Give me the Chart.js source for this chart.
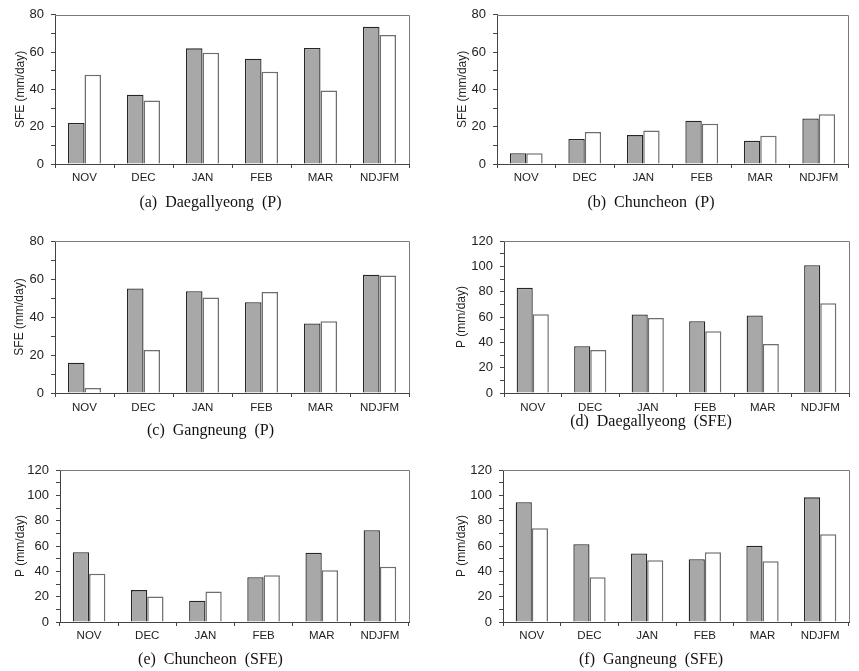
<!DOCTYPE html>
<html>
<head>
<meta charset="utf-8">
<script src="https://cdn.jsdelivr.net/npm/chart.js@4.4.1/dist/chart.umd.min.js"></script>
<style>
  html, body { margin: 0; padding: 0; background: #ffffff; }
  body { width: 859px; height: 671px; position: relative; overflow: hidden; }
  canvas { position: absolute; }
</style>
</head>
<body>
<canvas id="pa"></canvas>
<canvas id="pb"></canvas>
<canvas id="pc"></canvas>
<canvas id="pd"></canvas>
<canvas id="pe"></canvas>
<canvas id="pf"></canvas>
<script>
// ---- data ----
const categories = ['NOV', 'DEC', 'JAN', 'FEB', 'MAR', 'NDJFM'];

const grayA  = [22.0, 37.1, 62.0, 56.4, 62.2, 73.6];
const whiteA = [47.8, 34.0, 59.7, 49.4, 39.4, 69.2];

const grayB  = [5.8, 13.4, 15.5, 23.2, 12.4, 24.4];
const whiteB = [5.8, 17.2, 17.9, 21.6, 15.2, 26.7];

const grayC  = [15.9, 55.0, 53.6, 47.8, 36.6, 62.3];
const whiteC = [2.6, 22.6, 50.3, 53.1, 37.8, 61.8];

const grayD  = [83.0, 37.0, 62.0, 56.7, 61.2, 100.8];
const whiteD = [62.2, 33.9, 59.3, 48.8, 38.6, 70.9];

const grayE  = [55.1, 25.2, 16.8, 35.4, 54.6, 72.4];
const whiteE = [38.1, 20.2, 24.1, 37.0, 40.9, 43.6];

const grayF  = [94.5, 61.4, 54.1, 49.6, 60.1, 98.4];
const whiteF = [74.0, 35.4, 48.8, 55.1, 48.0, 69.3];

const yTitleSFE = 'SFE (mm/day)';
const yTitleP = 'P (mm/day)';
const captions = [
  '(a)  Daegallyeong  (P)',
  '(b)  Chuncheon  (P)',
  '(c)  Gangneung  (P)',
  '(d)  Daegallyeong  (SFE)',
  '(e)  Chuncheon  (SFE)',
  '(f)  Gangneung  (SFE)'
];

// ---- styling / layout ----
const SANS = "'Liberation Sans', Arial, sans-serif";
const SERIF = "'Liberation Serif', 'Times New Roman', serif";

const framePlugin = {
  id: 'frame',
  afterDatasetsDraw(chart) {
    const { ctx, chartArea } = chart;
    const { left, right, top, bottom } = chartArea;
    ctx.save();
    ctx.strokeStyle = '#7a7a7a';
    ctx.lineWidth = 1;
    ctx.beginPath();
    ctx.moveTo(left, Math.round(top) + 0.5);
    ctx.lineTo(Math.round(right) + 0.5, Math.round(top) + 0.5);
    ctx.lineTo(Math.round(right) + 0.5, bottom);
    ctx.stroke();
    ctx.restore();
  }
};

function makePanel(id, geo, gray, white, yMax, yTitle, caption) {
  const cv = document.getElementById(id);
  cv.width = geo.W; cv.height = geo.H;
  cv.style.left = geo.cl + 'px'; cv.style.top = geo.ct + 'px';
  cv.style.width = geo.W + 'px'; cv.style.height = geo.H + 'px';
  const xH = 20;
  const pt = geo.H - 19.2 - xH - geo.B;
  new Chart(cv.getContext('2d'), {
    type: 'bar',
    data: {
      labels: categories,
      datasets: [
        { data: gray, backgroundColor: '#a8a8a8', borderColor: '#262626', borderWidth: 1.3,
          categoryPercentage: 0.56, barPercentage: 1.0 },
        { data: white, backgroundColor: '#ffffff', borderColor: '#6e6e6e', borderWidth: 1.5,
          categoryPercentage: 0.56, barPercentage: 1.0 }
      ]
    },
    options: {
      responsive: false,
      animation: false,
      devicePixelRatio: 1,
      layout: { padding: { left: geo.p, right: geo.W - geo.R, top: geo.T, bottom: 0 } },
      plugins: {
        legend: { display: false },
        tooltip: { enabled: false },
        title: {
          display: true, position: 'bottom', text: caption, color: '#111',
          font: { family: SERIF, size: 16, weight: 'normal' },
          padding: { top: pt, bottom: 0 }
        }
      },
      scales: {
        x: {
          offset: true,
          grid: { offset: true, drawOnChartArea: false, drawTicks: true, tickLength: 4, color: '#444' },
          border: { display: true, color: '#444', width: 1 },
          ticks: { color: '#222', font: { family: SANS, size: 11.5 }, padding: geo.xPad, maxRotation: 0, autoSkip: false },
          afterFit: s => { s.height = xH; }
        },
        y: {
          min: 0, max: yMax,
          grid: { drawOnChartArea: false, drawTicks: true, tickLength: 4, color: '#444' },
          border: { display: true, color: '#444', width: 1 },
          ticks: {
            stepSize: 10, autoSkip: false, color: '#222', padding: 7,
            font: { family: SANS, size: 13 },
            callback: v => (v % 20 === 0 ? String(v) : '')
          },
          title: { display: true, text: yTitle, color: '#222',
                   font: { family: SANS, size: 12 }, padding: { top: geo.tPad, bottom: 0 } },
          afterFit: s => { s.width = geo.yW; }
        }
      }
    },
    plugins: [framePlugin]
  });
}

makePanel('pa', { cl: 0,   ct: 0,   W: 430, H: 212, p: 12, yW: 43, R: 409, T: 12, B: 164, xPad: 3, tPad: 1 }, grayA, whiteA, 80,  yTitleSFE, captions[0]);
makePanel('pb', { cl: 430, ct: 0,   W: 429, H: 212, p: 24, yW: 43, R: 418, T: 12, B: 164, xPad: 3, tPad: 1 }, grayB, whiteB, 80,  yTitleSFE, captions[1]);
makePanel('pc', { cl: 0,   ct: 215, W: 430, H: 225, p: 12, yW: 43, R: 409, T: 26, B: 178, xPad: 4, tPad: 0 }, grayC, whiteC, 80,  yTitleSFE, captions[2]);
makePanel('pd', { cl: 430, ct: 215, W: 429, H: 216, p: 23, yW: 51, R: 419, T: 26, B: 178, xPad: 4, tPad: 1 }, grayD, whiteD, 120, yTitleP,   captions[3]);
makePanel('pe', { cl: 0,   ct: 448, W: 430, H: 221, p: 12, yW: 48, R: 409, T: 22, B: 174, xPad: 3, tPad: 1 }, grayE, whiteE, 120, yTitleP,   captions[4]);
makePanel('pf', { cl: 430, ct: 448, W: 429, H: 221, p: 23, yW: 50, R: 419, T: 22, B: 174, xPad: 3, tPad: 1 }, grayF, whiteF, 120, yTitleP,   captions[5]);
</script>
</body>
</html>
